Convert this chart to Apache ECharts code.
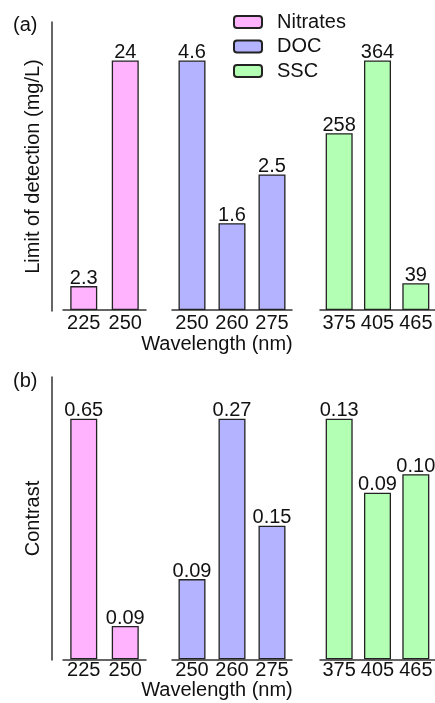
<!DOCTYPE html>
<html>
<head>
<meta charset="utf-8">
<script src="https://cdn.jsdelivr.net/npm/echarts@6/dist/echarts.min.js"></script>
<style>html,body{margin:0;padding:0;background:#fff;}#c{width:435px;height:703px;}</style>
</head>
<body>
<div id="c"></div>
<script>
// ---- data ----
const nitratesCats = ['225', '250'];
const docCats = ['250', '260', '275'];
const sscCats = ['375', '405', '465'];
const nitratesLOD = [2.3, 24];
const docLOD = [4.6, 1.6, 2.5];
const sscLOD = [258, 364, 39];
const nitratesContrast = [0.65, 0.09];
const docContrast = [0.09, 0.27, 0.15];
const sscContrast = [0.13, 0.09, 0.10];
const seriesNames = ['Nitrates', 'DOC', 'SSC'];

// ---- style ----
const FONT = 'Liberation Sans, Arial, sans-serif';
const FS = 20;
const colors = ['#ffb3ff', '#b3b3ff', '#b3ffb3'];
const axisColor = '#333';
const textColor = '#111';

const chart = echarts.init(document.getElementById('c'));

const groups = [
  {cats: nitratesCats, lod: nitratesLOD, con: nitratesContrast, left: 63, width: 83},
  {cats: docCats, lod: docLOD, con: docContrast, left: 172, width: 120},
  {cats: sscCats, lod: sscLOD, con: sscContrast, left: 320, width: 120}
];
const panels = [
  {key: 'lod', top: 60.5, height: 249.5, fmt: v => String(v), axisTop: 22, axisH: 289, name: 'Limit of detection (mg/L)', margin: 3},
  {key: 'con', top: 418.7, height: 240.6, fmt: v => v.toFixed(2), axisTop: 377, axisH: 283, name: 'Contrast', margin: 1}
];

const grid = [], xAxis = [], yAxis = [], series = [];
panels.forEach((p, pi) => {
  groups.forEach((g, gi) => {
    const idx = grid.length;
    grid.push({left: g.left, top: p.top, width: g.width, height: p.height});
    xAxis.push({
      type: 'category', gridIndex: idx, data: g.cats,
      axisLine: {show: true, lineStyle: {color: axisColor, width: 1.5}},
      axisTick: {show: false},
      axisLabel: {interval: 0, color: textColor, fontSize: FS, fontFamily: FONT, margin: p.margin}
    });
    yAxis.push({type: 'value', gridIndex: idx, min: 0, max: 'dataMax', show: false});
    series.push({
      type: 'bar', name: seriesNames[gi], xAxisIndex: idx, yAxisIndex: idx,
      data: g[p.key], barWidth: 27,
      itemStyle: {color: colors[gi], borderColor: '#222', borderWidth: 1.3},
      label: {show: true, position: 'top', distance: -2, color: textColor, fontSize: FS, fontFamily: FONT,
        formatter: o => p.fmt(o.value)},
      emphasis: {disabled: true}, animation: false
    });
  });
});
// panel-level vertical axes
panels.forEach(p => {
  const idx = grid.length;
  grid.push({left: 52, top: p.axisTop, width: 1, height: p.axisH});
  xAxis.push({type: 'value', gridIndex: idx, show: false});
  yAxis.push({
    type: 'value', gridIndex: idx, min: 0, max: 1,
    axisLine: {show: true, lineStyle: {color: axisColor, width: 1.5}},
    axisTick: {show: false}, axisLabel: {show: false}, splitLine: {show: false},
    name: p.name, nameLocation: 'middle', nameGap: 9,
    nameTextStyle: {color: textColor, fontSize: FS, fontFamily: FONT}
  });
});

chart.setOption({
  animation: false,
  backgroundColor: '#fff',
  title: [
    {text: '(a)', left: 13, top: 15, padding: 0, textStyle: {fontSize: FS, fontWeight: 'normal', color: textColor, fontFamily: FONT}},
    {text: '(b)', left: 13, top: 371, padding: 0, textStyle: {fontSize: FS, fontWeight: 'normal', color: textColor, fontFamily: FONT}},
    {text: 'Wavelength (nm)', left: 217, top: 334, padding: 0, textAlign: 'center', textStyle: {fontSize: FS, fontWeight: 'normal', color: textColor, fontFamily: FONT}},
    {text: 'Wavelength (nm)', left: 217, top: 680, padding: 0, textAlign: 'center', textStyle: {fontSize: FS, fontWeight: 'normal', color: textColor, fontFamily: FONT}}
  ],
  legend: {
    data: seriesNames, orient: 'vertical', left: 233, top: 12, padding: 0,
    itemWidth: 28, itemHeight: 12, itemGap: 4.5,
    textStyle: {fontSize: FS, color: textColor, fontFamily: FONT, lineHeight: 20, padding: [0, 0, 0, 10]},
    selectedMode: false
  },
  grid, xAxis, yAxis, series
});
</script>
</body>
</html>
